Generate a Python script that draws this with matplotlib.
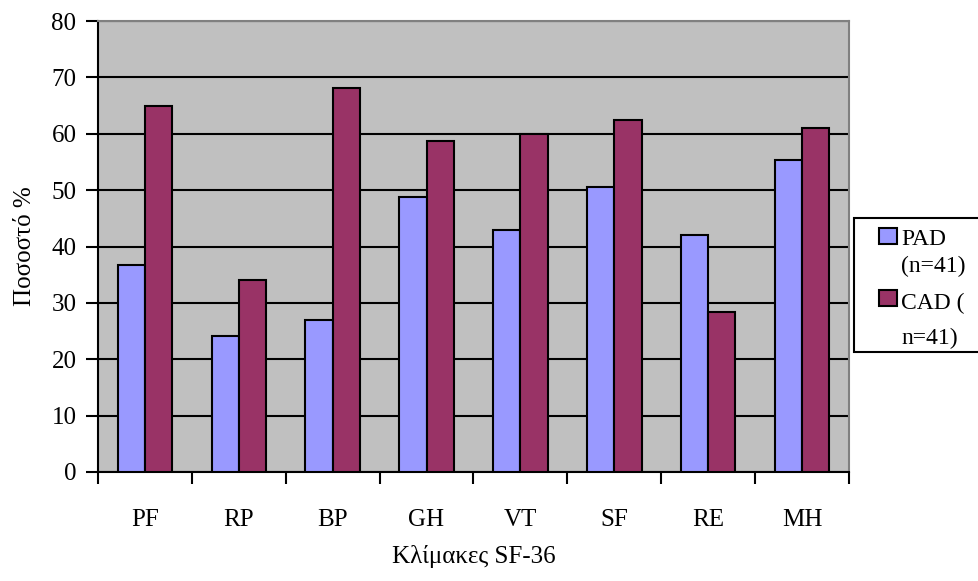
import numpy as np
import matplotlib
matplotlib.use('Agg')
import matplotlib.pyplot as plt
from matplotlib.patches import Patch, Rectangle
from matplotlib.legend_handler import HandlerPatch

# SF-36 scales, PAD vs CAD
categories = ['PF', 'RP', 'BP', 'GH', 'VT', 'SF', 'RE', 'MH']
pad_values = [36.8, 24.1, 26.9, 48.7, 43.0, 50.6, 42.0, 55.3]
cad_values = [64.9, 34.0, 68.2, 58.7, 60.0, 62.5, 28.3, 61.1]
legend_labels = ['PAD\n(n=41)', 'CAD (\nn=41)']
y_ticks = [0, 10, 20, 30, 40, 50, 60, 70, 80]

plt.rcParams['font.family'] = ['Liberation Serif', 'DejaVu Serif']

W, H = 979, 581
fig = plt.figure(figsize=(W / 100, H / 100), dpi=100)
ax = fig.add_axes([98 / W, 1 - 472 / H, (849 - 98) / W, (472 - 21) / H])
ax.set_facecolor('#C0C0C0')

x = np.arange(len(categories))
w = 0.29
ax.bar(x - w / 2, pad_values, w, color='#9999FF', edgecolor='black', lw=1.5, zorder=3)
ax.bar(x + w / 2, cad_values, w, color='#993366', edgecolor='black', lw=1.5, zorder=3)

ax.set_xlim(-0.5, len(categories) - 0.5)
ax.set_ylim(0, 80)
ax.set_yticks(y_ticks)
ax.set_yticklabels([str(v) for v in y_ticks], fontsize=18)
ax.yaxis.grid(True, color='black', lw=1.5, zorder=1)
ax.set_axisbelow(True)

# category labels at centres, tick marks at boundaries
ax.set_xticks(np.arange(len(categories) + 1) - 0.5)
ax.set_xticklabels([])
ax.set_xticks(x, minor=True)
ax.set_xticklabels(categories, minor=True, fontsize=18)
ax.tick_params(axis='x', which='minor', length=0, pad=27)
ax.tick_params(axis='x', which='major', length=8.5, width=1.5, direction='out')
ax.tick_params(axis='y', length=8.5, width=1.5, direction='out', pad=7)

for s in ['top', 'right']:
    ax.spines[s].set_color('#808080')
    ax.spines[s].set_linewidth(1.5)
for s in ['left', 'bottom']:
    ax.spines[s].set_color('black')
    ax.spines[s].set_linewidth(1.5)

ax.set_ylabel('Ποσοστό %', fontsize=18, labelpad=11)
ax.set_xlabel('Κλίμακες SF-36', fontsize=18, labelpad=10)

# legend: frame drawn separately, square aligned with the first text line
LEG_FS = 17
line_spacing = [1.34, 1.85]


def top_square(legend, orig_handle, xdescent, ydescent, width, height, fontsize):
    shift = orig_handle.shift * fontsize
    return Rectangle((-xdescent, -ydescent + shift), width, height)


fig.patches.append(Rectangle((854 / W, 1 - 352 / H), 140 / W, 134 / H,
                             transform=fig.transFigure, facecolor='white',
                             edgecolor='black', lw=1.5, zorder=0))
handles = [Patch(facecolor='#9999FF', edgecolor='black', lw=1.5),
           Patch(facecolor='#993366', edgecolor='black', lw=1.5)]
for h, ls in zip(handles, line_spacing):
    h.shift = 0.5 * ls * 1.04
leg = fig.legend(handles, legend_labels, loc='upper left',
                 bbox_to_anchor=(879 / W, 1 - 229 / H),
                 fontsize=LEG_FS, frameon=False,
                 handlelength=0.75, handleheight=0.65,
                 handletextpad=0.2, labelspacing=0.7, borderpad=0,
                 borderaxespad=0,
                 handler_map={Patch: HandlerPatch(patch_func=top_square)})
for t, ls in zip(leg.get_texts(), line_spacing):
    t.set_linespacing(ls)

fig.savefig('out.png', dpi=100)
